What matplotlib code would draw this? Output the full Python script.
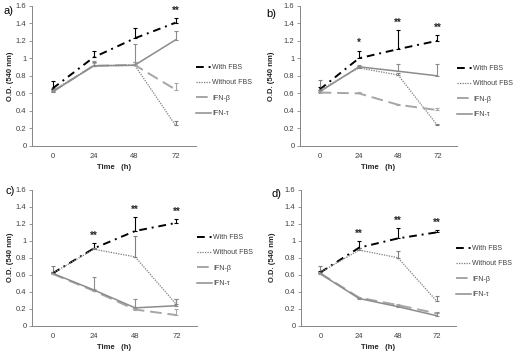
import matplotlib
matplotlib.use("Agg")
import matplotlib.pyplot as plt
import numpy as np

plt.rcParams['font.family'] = ['Liberation Sans', 'DejaVu Sans']

# time points (h)
times = ['0', '24', '48', '72']
series_names = ['With FBS', 'Without FBS', 'IFN-\u03b2', 'IFN-\u03c4']
panel_tags = ['a)', 'b)', 'c)', 'd)']

# O.D. values per panel (a, b, c, d)
with_fbs = [[0.655, 1.01, 1.227, 1.406],
            [0.644, 1.0, 1.105, 1.2],
            [0.616, 0.91, 1.114, 1.21],
            [0.627, 0.918, 1.027, 1.098]]
without_fbs = [[0.63, 0.915, 0.925, 0.236],
               [0.636, 0.89, 0.81, 0.236],
               [0.616, 0.9, 0.81, 0.25],
               [0.627, 0.89, 0.8, 0.29]]
ifn_beta = [[0.62, 0.915, 0.925, 0.644],
            [0.61, 0.6, 0.47, 0.41],
            [0.61, 0.41, 0.19, 0.125],
            [0.616, 0.33, 0.243, 0.145]]
ifn_tau = [[0.617, 0.914, 0.92, 1.21],
           [0.617, 0.903, 0.853, 0.8],
           [0.616, 0.42, 0.21, 0.235],
           [0.61, 0.32, 0.224, 0.118]]

# upper error bars
with_err = [[0.085, 0.076, 0.12, 0.05],
            [0.03, 0.086, 0.215, 0.065],
            [0.02, 0.06, 0.16, 0.05],
            [0.02, 0.08, 0.126, 0.027]]
without_err = [[0.03, 0.04, 0.03, 0.05],
               [0.115, 0.02, 0.02, 0.02],
               [0.09, 0.02, 0.24, 0.06],
               [0.073, 0.02, 0.08, 0.063]]
beta_err = [[0.02, 0.03, 0.03, 0.07],
            [0.01, 0.02, 0.01, 0.025],
            [0.02, 0.02, 0.03, 0.075],
            [0.01, 0.01, 0.01, 0.01]]
tau_err = [[0.02, 0.06, 0.24, 0.1],
           [0.02, 0.02, 0.087, 0.14],
           [0.02, 0.156, 0.1, 0.075],
           [0.01, 0.01, 0.01, 0.04]]

# significance marks above "With FBS"
stars = [['', '', '', '**'],
         ['', '*', '**', '**'],
         ['', '**', '**', '**'],
         ['', '**', '**', '**']]

styles = [dict(color='black', ls=(0, (4, 2.5, 1, 2.5)), lw=1.4),
          dict(color='#7f7f7f', ls=(0, (1, 1)), lw=0.9),
          dict(color='#a6a6a6', ls=(0, (6, 3)), lw=1.4),
          dict(color='#8c8c8c', ls='-', lw=1.1)]

W, H = 515, 351
fig = plt.figure(figsize=(W / 100, H / 100), dpi=100)

# axes boxes in pixels: left, right, y of 0, y of 1.6
boxes = [(32, 196, 146, 5.7), (300, 457, 146, 5.7),
         (32, 197, 325.7, 189.7), (301, 456, 325.7, 189.7)]
tag_pos = [(3, 11), (266, 14), (5, 191), (272, 194)]
ylab_pad = [1.5, 6, 1.5, 6]
leg_top = [64, 65, 234, 245]
axis_grey = '#868686'
text_grey = '#404040'

x = np.arange(len(times))
for i in range(4):
    l, r, b, t = boxes[i]
    ax = fig.add_axes([l / W, 1 - b / H, (r - l) / W, (b - t) / H])
    data = [with_fbs[i], without_fbs[i], ifn_beta[i], ifn_tau[i]]
    errs = [with_err[i], without_err[i], beta_err[i], tau_err[i]]
    handles = []
    for k in range(4):
        st = styles[k]
        y = np.array(data[k])
        e = np.array(errs[k])
        ax.errorbar(x, y, yerr=[np.zeros_like(e), e], fmt='none',
                    ecolor=st['color'], elinewidth=0.8, capsize=1.5,
                    capthick=0.8, zorder=2)
        h, = ax.plot(x, y, color=st['color'], ls=st['ls'], lw=st['lw'],
                     label=series_names[k], zorder=3)
        handles.append(h)
    for j, s in enumerate(stars[i]):
        if s:
            ax.text(x[j], with_fbs[i][j] + with_err[i][j] + 0.085, s,
                    ha='center', va='center', fontsize=7, fontweight='bold',
                    color='#262626')
    ax.set_xlim(-0.5, 3.5)
    ax.set_ylim(0, 1.6)
    ax.set_xticks(x)
    ax.set_xticklabels(times)
    ax.set_yticks(np.arange(0, 1.61, 0.2))
    ax.set_yticklabels(['0', '0.2', '0.4', '0.6', '0.8', '1', '1.2', '1.4', '1.6'])
    ax.tick_params(axis='x', length=0, labelsize=5.5, colors=text_grey, pad=5)
    ax.tick_params(axis='y', length=2.5, width=0.6, color=axis_grey,
                   labelsize=5.5, labelcolor=text_grey, pad=1.5)
    for sp in ['top', 'right']:
        ax.spines[sp].set_visible(False)
    for sp in ['left', 'bottom']:
        ax.spines[sp].set_color(axis_grey)
        ax.spines[sp].set_linewidth(0.7)
    ax.set_xlabel('Time   (h)', fontsize=5.5, fontweight='bold', color='#262626',
                  labelpad=3)
    ax.set_ylabel('O.D. (540 nm)', fontsize=5.5, fontweight='bold', color='#262626',
                  labelpad=ylab_pad[i])
    ax.legend(handles=handles, loc='upper left',
              bbox_to_anchor=(1.0, (b - leg_top[i]) / (b - t)),
              frameon=False, fontsize=5, labelcolor=text_grey,
              handlelength=2.1, handletextpad=0.2, labelspacing=1.2,
              borderpad=0, borderaxespad=0)
    tx, ty = tag_pos[i]
    fig.text(tx / W, 1 - ty / H, panel_tags[i], fontsize=8, va='center',
             ha='left', color='black')

fig.savefig('out.png', dpi=100)
